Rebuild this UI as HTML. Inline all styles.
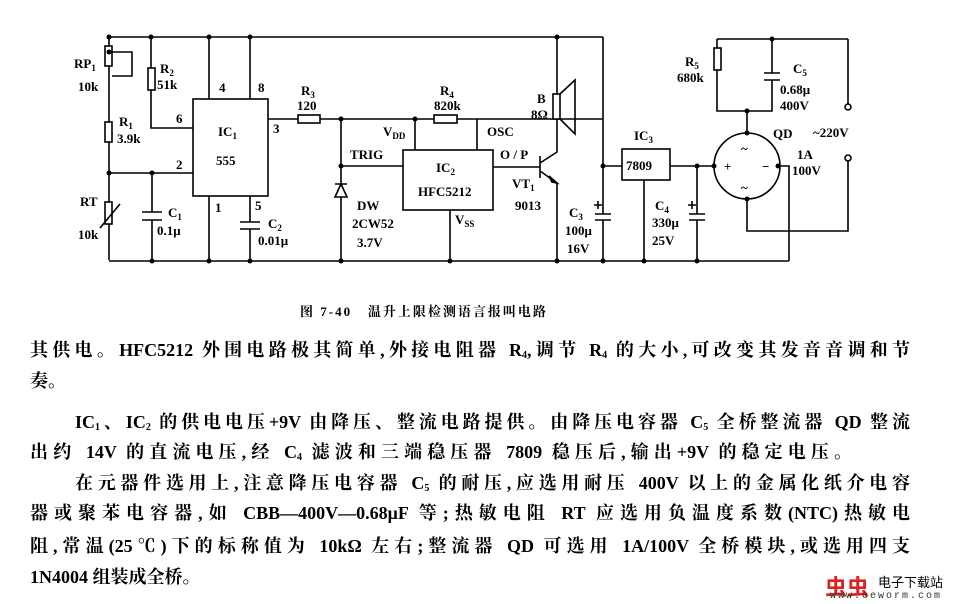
<!DOCTYPE html>
<html><head><meta charset="utf-8"><style>
body{margin:0;background:#fff;width:960px;height:604px;overflow:hidden;position:relative;font-family:"Liberation Serif","Noto Serif CJK SC",serif;}
.l{position:absolute;left:30px;width:880px;font-size:18px;font-weight:bold;line-height:22px;text-align:justify;text-align-last:justify;white-space:nowrap;font-family:"Liberation Serif","Noto Serif CJK SC",serif;}
.n{text-align-last:left;}
sub{font-size:10px;vertical-align:-2px;line-height:0}
svg text{font-family:"Liberation Serif",serif;font-weight:bold;font-size:13px;fill:#000}
</style></head><body>
<svg width="960" height="300" style="position:absolute;left:0;top:0" stroke="#000" stroke-width="1.6" fill="none">
<path d="M109 37H603M717 39H848M848 39V104"/>
<path d="M109 261H789"/>
<path d="M109 37V260"/>
<rect x="105" y="46" width="7" height="20" fill="#fff"/>
<path d="M109 52H132V76H112"/>
<rect x="105" y="122" width="7" height="20" fill="#fff"/>
<rect x="105" y="202" width="7" height="22" fill="#fff"/>
<path d="M100 228L120 204"/>
<path d="M151 37V128H193"/>
<rect x="148" y="68" width="7" height="22" fill="#fff"/>
<path d="M109 173H193M152 173V212M152 220V261"/>
<path d="M142 212H162M142 220H162"/>
<rect x="193" y="99" width="75" height="97" fill="#fff"/>
<path d="M209 37V99M250 37V99M209 196V261M250 196V222M250 229V261M240 222H260M240 229H260"/>
<path d="M268 119H603"/>
<rect x="298" y="115" width="22" height="8" fill="#fff"/>
<path d="M341 119V261M341 166H403"/>
<path d="M335 184H347M341 184L335 197H347Z" fill="#fff"/>
<rect x="403" y="150" width="90" height="60" fill="#fff"/>
<path d="M415 119V150M477 119V150M450 210V261"/>
<rect x="434" y="115" width="23" height="8" fill="#fff"/>
<path d="M493 167H540M540 156V178M540 163L557 152V37M540 171L557 183V261"/>
<path d="M557 183L549 176L552 182Z" fill="#000"/>
<rect x="553" y="94" width="7" height="25" fill="#fff"/>
<path d="M560 94L575 80V134L560 119"/>
<path d="M603 37V214M603 220V261M595 214H611M595 220H611M594 205H602M598 201V209"/>
<path d="M603 166H622"/>
<rect x="622" y="149" width="48" height="31" fill="#fff"/>
<path d="M644 180V261M670 166H714M697 166V214M697 220V261M689 214H705M689 220H705M688 205H696M692 201V209"/>
<circle cx="747" cy="166" r="33"/>
<path d="M747 133V111M717 39V111H772V80M772 73V39M764 73H780M764 80H780"/>
<rect x="714" y="48" width="7" height="22" fill="#fff"/>
<path d="M747 199V231H848V161M778 166H789V261"/>
<circle cx="848" cy="107" r="3" fill="#fff"/><circle cx="848" cy="158" r="3" fill="#fff"/>
<g fill="#000" stroke="none">
<circle cx="109" cy="37" r="2.5"/><circle cx="151" cy="37" r="2.5"/><circle cx="209" cy="37" r="2.5"/><circle cx="250" cy="37" r="2.5"/><circle cx="557" cy="37" r="2.5"/>
<circle cx="109" cy="52" r="2.5"/><circle cx="109" cy="173" r="2.5"/><circle cx="152" cy="173" r="2.5"/>
<circle cx="152" cy="261" r="2.5"/><circle cx="209" cy="261" r="2.5"/><circle cx="250" cy="261" r="2.5"/><circle cx="341" cy="261" r="2.5"/><circle cx="450" cy="261" r="2.5"/><circle cx="557" cy="261" r="2.5"/><circle cx="603" cy="261" r="2.5"/><circle cx="644" cy="261" r="2.5"/><circle cx="697" cy="261" r="2.5"/>
<circle cx="341" cy="119" r="2.5"/><circle cx="341" cy="166" r="2.5"/><circle cx="415" cy="119" r="2.5"/><circle cx="603" cy="166" r="2.5"/><circle cx="697" cy="166" r="2.5"/>
<circle cx="772" cy="39" r="2.5"/><circle cx="747" cy="111" r="2.5"/><circle cx="747" cy="133" r="2.5"/><circle cx="747" cy="199" r="2.5"/><circle cx="714" cy="166" r="2.5"/><circle cx="778" cy="166" r="2.5"/>
</g>
<g stroke="none">
<text x="74" y="68">RP<tspan font-size="9" dy="3">1</tspan></text><text x="78" y="91">10k</text>
<text x="119" y="126">R<tspan font-size="9" dy="3">1</tspan></text><text x="117" y="143">3.9k</text>
<text x="80" y="206">RT</text><text x="78" y="239">10k</text>
<text x="160" y="73">R<tspan font-size="9" dy="3">2</tspan></text><text x="157" y="89">51k</text>
<text x="176" y="123">6</text><text x="176" y="169">2</text><text x="219" y="92">4</text><text x="258" y="92">8</text><text x="273" y="133">3</text><text x="215" y="212">1</text><text x="255" y="210">5</text>
<text x="218" y="136" font-size="15">IC<tspan font-size="9" dy="3">1</tspan></text><text x="216" y="165" font-size="12" font-weight="normal">555</text>
<text x="168" y="217">C<tspan font-size="9" dy="3">1</tspan></text><text x="157" y="235">0.1μ</text>
<text x="268" y="228">C<tspan font-size="9" dy="3">2</tspan></text><text x="258" y="245">0.01μ</text>
<text x="301" y="95">R<tspan font-size="9" dy="3">3</tspan></text><text x="297" y="110">120</text>
<text x="440" y="95">R<tspan font-size="9" dy="3">4</tspan></text><text x="434" y="110">820k</text>
<text x="383" y="136">V<tspan font-size="9" dy="3">DD</tspan></text><text x="350" y="159">TRIG</text>
<text x="487" y="136">OSC</text><text x="500" y="159">O / P</text>
<text x="436" y="172" font-size="15">IC<tspan font-size="9" dy="3">2</tspan></text><text x="418" y="196">HFC5212</text>
<text x="455" y="224">V<tspan font-size="9" dy="3">SS</tspan></text>
<text x="357" y="210">DW</text><text x="352" y="228">2CW52</text><text x="357" y="247">3.7V</text>
<text x="537" y="103">B</text><text x="531" y="119">8Ω</text>
<text x="512" y="188">VT<tspan font-size="9" dy="3">1</tspan></text><text x="515" y="210">9013</text>
<text x="569" y="217">C<tspan font-size="9" dy="3">3</tspan></text><text x="565" y="235">100μ</text><text x="567" y="253">16V</text>
<text x="634" y="140">IC<tspan font-size="9" dy="3">3</tspan></text><text x="626" y="170" font-weight="normal">7809</text>
<text x="655" y="210">C<tspan font-size="9" dy="3">4</tspan></text><text x="652" y="227">330μ</text><text x="652" y="245">25V</text>
<text x="685" y="66">R<tspan font-size="9" dy="3">5</tspan></text><text x="677" y="82">680k</text>
<text x="793" y="73">C<tspan font-size="9" dy="3">5</tspan></text><text x="780" y="94">0.68μ</text><text x="780" y="110">400V</text>
<text x="773" y="138">QD</text><text x="813" y="137">~220V</text><text x="797" y="159">1A</text><text x="792" y="175">100V</text>
<text x="724" y="171" font-size="16">+</text><text x="762" y="171" font-size="16">−</text>
<text x="741" y="153">~</text><text x="741" y="192">~</text>
</g>
</svg>
<div style="position:absolute;left:300px;top:301px;font-size:13px;font-weight:bold;font-family:'Liberation Serif','Noto Serif CJK SC',serif;letter-spacing:2px">图 7-40 &nbsp;&nbsp;温升上限检测语言报叫电路</div>
<div class="l" style="top:339px">其供电。HFC5212 外围电路极其简单,外接电阻器 R<sub>4</sub>,调节 R<sub>4</sub> 的大小,可改变其发音音调和节</div>
<div class="l n" style="top:370px">奏。</div>
<div class="l" style="top:411px;left:75px;width:835px">IC<sub>1</sub>、IC<sub>2</sub> 的供电电压+9V 由降压、整流电路提供。由降压电容器 C<sub>5</sub> 全桥整流器 QD 整流</div>
<div class="l" style="top:441px;width:822px">出约 14V 的直流电压,经 C<sub>4</sub> 滤波和三端稳压器 7809 稳压后,输出+9V 的稳定电压。</div>
<div class="l" style="top:472px;left:75px;width:835px">在元器件选用上,注意降压电容器 C<sub>5</sub> 的耐压,应选用耐压 400V 以上的金属化纸介电容</div>
<div class="l" style="top:502px">器或聚苯电容器,如 CBB—400V—0.68μF 等;热敏电阻 RT 应选用负温度系数(NTC)热敏电</div>
<div class="l" style="top:535px">阻,常温(25℃)下的标称值为 10kΩ 左右;整流器 QD 可选用 1A/100V 全桥模块,或选用四支</div>
<div class="l n" style="top:566px">1N4004 组装成全桥。</div>
<div style="position:absolute;left:825px;top:570px;font-size:22px;font-weight:bold;color:#d22;font-family:'Noto Sans CJK SC',sans-serif">虫虫</div>
<div style="position:absolute;left:878px;top:572px;font-size:13px;font-family:'Noto Sans CJK SC',sans-serif">电子下载站</div>
<div style="position:absolute;left:830px;top:591px;font-size:10px;letter-spacing:2px;color:#333;font-family:'Liberation Mono',monospace">www.eeworm.com</div>
</body></html>
